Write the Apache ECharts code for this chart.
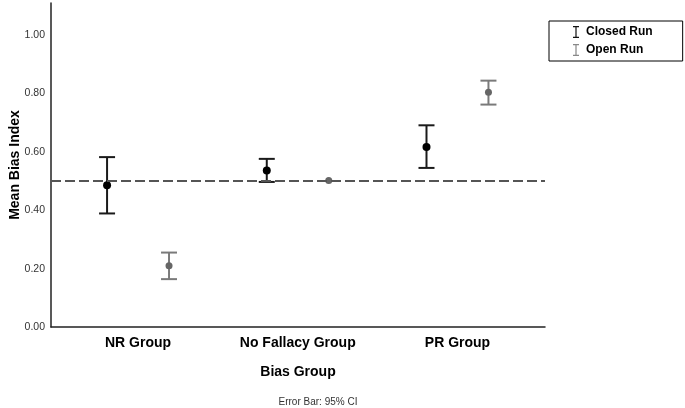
<!DOCTYPE html>
<html>
<head>
<meta charset="utf-8">
<script src="https://cdn.jsdelivr.net/npm/echarts@6/dist/echarts.min.js"></script>
<style>
  html, body { margin: 0; padding: 0; background: #fff; }
  #chart { width: 685px; height: 408px; }
</style>
</head>
<body>
<div id="chart"></div>
<script>
// categories on the x axis
const groups = ["NR Group", "No Fallacy Group", "PR Group"];

// means and 95% CI bounds, one entry per group
const closedMean = [0.486, 0.536, 0.617];
const closedLow = [0.389, 0.497, 0.545];
const closedHigh = [0.582, 0.576, 0.691];

const openMean = [0.210, 0.502, 0.804];
const openLow = [0.164, 0.502, 0.762];
const openHigh = [0.255, 0.502, 0.844];

const yTicks = [0, 0.2, 0.4, 0.6, 0.8, 1.0];
const refLine = 0.5;

const FONT = "Liberation Sans, Arial, sans-serif";

function rows(mean, low, high) {
  return mean.map((m, i) => [i, m, low[i], high[i]]);
}

function errorBar(shift, barColor, dotColor, dotR) {
  return function (params, api) {
    const x = api.value(0) + shift;
    const mid = api.coord([x, api.value(1)]);
    const lo = api.coord([x, api.value(2)]);
    const hi = api.coord([x, api.value(3)]);
    const cap = 8;
    const line = { stroke: barColor, lineWidth: 2 };
    const parts = [];
    // no whiskers when the interval has no width
    if (Math.abs(lo[1] - hi[1]) > 1) {
      parts.push(
        { type: "line", shape: { x1: mid[0], y1: lo[1], x2: mid[0], y2: hi[1] }, style: line },
        { type: "line", shape: { x1: mid[0] - cap, y1: hi[1], x2: mid[0] + cap, y2: hi[1] }, style: line },
        { type: "line", shape: { x1: mid[0] - cap, y1: lo[1], x2: mid[0] + cap, y2: lo[1] }, style: line }
      );
    }
    parts.push({ type: "circle", shape: { cx: mid[0], cy: mid[1], r: dotR }, style: { fill: dotColor } });
    return { type: "group", children: parts };
  };
}

const ibeam = "path://M0,0h8v1.6h-3.2v12.8h3.2v1.6h-8v-1.6h3.2v-12.8h-3.2z";

const chart = echarts.init(document.getElementById("chart"));

chart.setOption({
  animation: false,
  backgroundColor: "#fff",
  textStyle: { fontFamily: FONT },
  grid: { left: 51, right: 140, top: 3, bottom: 81, outerBoundsMode: "none", containLabel: false },
  legend: {
    orient: "vertical",
    left: 549,
    top: 21,
    padding: [5, 30, 5, 24],
    itemGap: 6,
    itemWidth: 8,
    itemHeight: 12,
    borderColor: "#000",
    borderWidth: 1,
    textStyle: { fontFamily: FONT, fontSize: 12, fontWeight: "bold", color: "#000", padding: [0, 0, 0, 1] },
    data: [
      { name: "Closed Run", icon: ibeam, itemStyle: { color: "#111" } },
      { name: "Open Run", icon: ibeam, itemStyle: { color: "#888" } }
    ]
  },
  xAxis: {
    type: "value",
    min: -0.545,
    max: 2.548,
    splitLine: { show: false },
    axisTick: { show: false },
    axisLine: { show: true, onZero: false, lineStyle: { color: "#222", width: 1.5 } },
    axisLabel: {
      customValues: [0, 1, 2],
      formatter: v => groups[v] || "",
      margin: 9,
      fontFamily: FONT,
      fontSize: 14,
      fontWeight: "bold",
      color: "#000"
    },
    name: "Bias Group",
    nameLocation: "middle",
    nameGap: 38,
    nameMoveOverlap: false,
    nameTextStyle: { fontFamily: FONT, fontSize: 14, fontWeight: "bold", color: "#000" }
  },
  yAxis: {
    type: "value",
    min: 0,
    max: 1.11,
    splitLine: { show: false },
    axisTick: { show: false },
    axisLine: { show: true, onZero: false, lineStyle: { color: "#222", width: 1.5 } },
    axisLabel: {
      customValues: yTicks,
      formatter: v => v.toFixed(2),
      margin: 6,
      fontFamily: FONT,
      fontSize: 10.5,
      color: "#333"
    },
    name: "Mean Bias Index",
    nameLocation: "middle",
    nameGap: 29,
    nameMoveOverlap: false,
    nameTextStyle: { fontFamily: FONT, fontSize: 14, fontWeight: "bold", color: "#000" }
  },
  graphic: [
    {
      type: "text",
      x: 318,
      y: 402,
      style: {
        text: "Error Bar: 95% CI",
        font: "10px " + FONT,
        fill: "#333",
        align: "center",
        verticalAlign: "middle"
      }
    }
  ],
  series: [
    {
      name: "Closed Run",
      type: "custom",
      itemStyle: { color: "#111" },
      renderItem: errorBar(-0.194, "#1a1a1a", "#000", 4),
      data: rows(closedMean, closedLow, closedHigh),
      z: 3,
      markLine: {
        silent: true,
        symbol: "none",
        label: { show: false },
        lineStyle: { color: "#555", type: [10, 4], width: 2 },
        data: [{ yAxis: refLine }]
      }
    },
    {
      name: "Open Run",
      type: "custom",
      itemStyle: { color: "#888" },
      renderItem: errorBar(0.194, "#7a7a7a", "#666", 3.5),
      data: rows(openMean, openLow, openHigh),
      z: 4
    }
  ]
});
</script>
</body>
</html>
